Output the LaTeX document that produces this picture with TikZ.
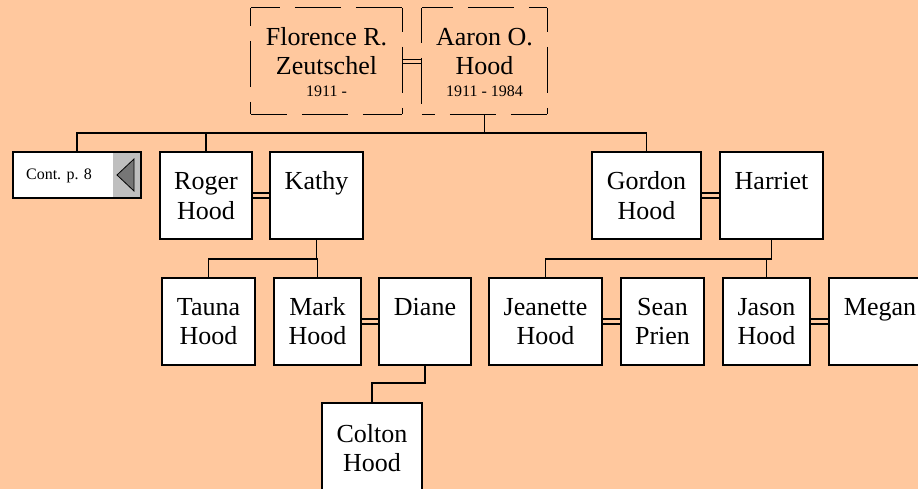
\documentclass[tikz,border=0pt]{standalone}
\usepackage{fontspec}
\setmainfont{Liberation Serif}
\definecolor{bg}{RGB}{255,200,158}
\definecolor{contgray}{RGB}{191,191,191}
\definecolor{trigray}{RGB}{118,118,118}
\begin{document}
\begin{tikzpicture}[x=1pt,y=-1pt,
  person/.style={draw=black, line width=1.6pt, fill=white, inner sep=0pt, minimum height=87pt},
  ghost/.style={draw=none, inner sep=0pt, minimum height=106pt},
  dashside/.style={line width=1.3pt, dash pattern=on 46pt off 15pt},
  bigname/.style={font=\fontsize{26}{29}\selectfont, inner sep=0pt, anchor=base},
  smalltext/.style={font=\fontsize{16}{18}\selectfont, inner sep=0pt, anchor=base},
  link/.style={line width=1.6pt},
  wed/.style={line width=1.2pt}]
\path[use as bounding box, fill=bg] (0,0) rectangle (918,489);
\clip (0,0) rectangle (918,489);

% top couple (dashed boxes)
\node[ghost, minimum width=151pt] (flo) at (326.5,61) {};
\node[ghost, minimum width=125pt] (aaron) at (484.5,61) {};
\draw[dashside, dash phase=17pt] (flo.north west) -- (flo.north east);
\draw[dashside, dash phase=10pt] (flo.south west) -- (flo.south east);
\draw[dashside, dash phase=28pt] (flo.north west) -- (flo.south west);
\draw[dashside, dash phase=22pt] (flo.north east) -- (flo.south east);
\draw[dashside, dash phase=15pt] (aaron.north west) -- (aaron.north east);
\draw[dashside, dash phase=33pt] (aaron.south west) -- (aaron.south east);
\draw[dashside, dash phase=11pt] (aaron.north west) -- (aaron.south west);
\draw[dashside, dash phase=22pt] (aaron.north east) -- (aaron.south east);
\node[bigname] (flo-t) at (326.5,45.7) {\begin{tabular}[t]{@{}c@{}}Florence R.\\Zeutschel\end{tabular}};
\node[smalltext] (flo-d) at (326.5,97) {1911 -};
\node[bigname] (aaron-t) at (484.5,45.7) {\begin{tabular}[t]{@{}c@{}}Aaron O.\\Hood\end{tabular}};
\node[smalltext] (aaron-d) at (484.5,97) {1911 - 1984};
\draw[wed] (flo.east |- 0,59.5) -- (aaron.west |- 0,59.5);
\draw[wed] (flo.east |- 0,63.5) -- (aaron.west |- 0,63.5);

% continuation box
\node[draw=black, line width=1.6pt, fill=white, inner sep=0pt, minimum width=128pt, minimum height=46pt,
  path picture={
    \fill[contgray] ([xshift=-28pt]path picture bounding box.north east) rectangle (path picture bounding box.south east);
    \filldraw[fill=trigray, draw=black, line width=0.8pt]
      ([xshift=-24pt]path picture bounding box.east) -- ([shift={(-7,-16)}]path picture bounding box.east)
      -- ([shift={(-7,16)}]path picture bounding box.east) -- cycle;
  }] (cont) at (77,175) {};
\node[smalltext] (cont-t) at (59,180) {Cont. p. 8};

% generation 2
\node[person, minimum width=92pt] (roger) at (206,195.5) {};
\node[person, minimum width=93pt] (kathy) at (316.5,195.5) {};
\node[person, minimum width=109pt] (gordon) at (646.5,195.5) {};
\node[person, minimum width=103pt] (harriet) at (771.5,195.5) {};
\node[bigname] (roger-t) at (206,190) {\begin{tabular}[t]{@{}c@{}}Roger\\Hood\end{tabular}};
\node[bigname] (kathy-t) at (316.5,190) {Kathy};
\node[bigname] (gordon-t) at (646.5,190) {\begin{tabular}[t]{@{}c@{}}Gordon\\Hood\end{tabular}};
\node[bigname] (harriet-t) at (771.5,190) {Harriet};

% generation 3
\node[person, minimum width=93pt] (tauna) at (208.5,321.5) {};
\node[person, minimum width=87pt] (mark) at (317.5,321.5) {};
\node[person, minimum width=92pt] (diane) at (425,321.5) {};
\node[person, minimum width=113pt] (jeanette) at (545.5,321.5) {};
\node[person, minimum width=83pt] (sean) at (662.5,321.5) {};
\node[person, minimum width=87pt] (jason) at (766.5,321.5) {};
\node[person, minimum width=102pt] (megan) at (880,321.5) {};
\node[bigname] (tauna-t) at (208.5,315) {\begin{tabular}[t]{@{}c@{}}Tauna\\Hood\end{tabular}};
\node[bigname] (mark-t) at (317.5,315) {\begin{tabular}[t]{@{}c@{}}Mark\\Hood\end{tabular}};
\node[bigname] (diane-t) at (425,315) {Diane};
\node[bigname] (jeanette-t) at (545.5,315) {\begin{tabular}[t]{@{}c@{}}Jeanette\\Hood\end{tabular}};
\node[bigname] (sean-t) at (662.5,315) {\begin{tabular}[t]{@{}c@{}}Sean\\Prien\end{tabular}};
\node[bigname] (jason-t) at (766.5,315) {\begin{tabular}[t]{@{}c@{}}Jason\\Hood\end{tabular}};
\node[bigname] (megan-t) at (880,315) {Megan};

% generation 4
\node[person, minimum width=100pt] (colton) at (372,446.5) {};
\node[bigname] (colton-t) at (372,442) {\begin{tabular}[t]{@{}c@{}}Colton\\Hood\end{tabular}};

% descent lines
\coordinate (bar1) at (0,133);
\coordinate (bar2) at (0,259);
\coordinate (bar3) at (0,383);
\draw[link] (aaron.south) -- (aaron.south |- bar1);
\draw[link] (cont.north) |- (gordon.north |- bar1) -- (gordon.north);
\draw[link] (roger.north) -- (roger.north |- bar1);
\draw[link] (kathy.south) -- (kathy.south |- bar2);
\draw[link] (tauna.north) |- (mark.north |- bar2) -- (mark.north);
\draw[link] (harriet.south) -- (harriet.south |- bar2) -| (jeanette.north);
\draw[link] (jason.north) -- (jason.north |- bar2);
\draw[link] (diane.south) |- (colton.north |- bar3) -- (colton.north);

% marriage lines
\draw[wed] (roger.east |- 0,193) -- (kathy.west |- 0,193);
\draw[wed] (roger.east |- 0,198) -- (kathy.west |- 0,198);
\draw[wed] (gordon.east |- 0,193) -- (harriet.west |- 0,193);
\draw[wed] (gordon.east |- 0,198) -- (harriet.west |- 0,198);
\draw[wed] (mark.east |- 0,319) -- (diane.west |- 0,319);
\draw[wed] (mark.east |- 0,324) -- (diane.west |- 0,324);
\draw[wed] (jeanette.east |- 0,319) -- (sean.west |- 0,319);
\draw[wed] (jeanette.east |- 0,324) -- (sean.west |- 0,324);
\draw[wed] (jason.east |- 0,319) -- (megan.west |- 0,319);
\draw[wed] (jason.east |- 0,324) -- (megan.west |- 0,324);
\end{tikzpicture}
\end{document}
